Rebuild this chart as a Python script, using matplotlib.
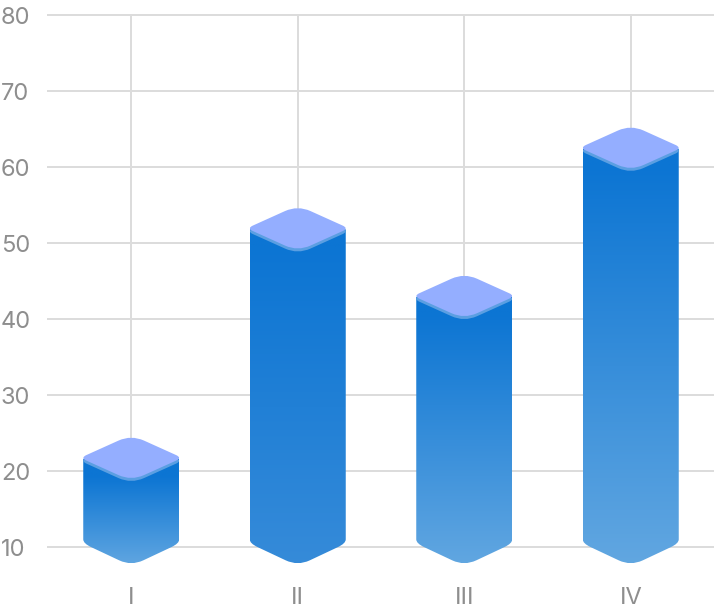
import numpy as np
import matplotlib
matplotlib.use("Agg")
import matplotlib.pyplot as plt
from matplotlib.path import Path
from matplotlib.patches import PathPatch
from matplotlib.colors import LinearSegmentedColormap

categories = ["I", "II", "III", "IV"]
values = [21.6, 51.8, 42.9, 62.4]
y_ticks = [10, 20, 30, 40, 50, 60, 70, 80]
base_value = 10

bottom_colors = ["#62a7e1", "#368bd9", "#62a7e1", "#62a7e1"]
top_color = "#0c75d3"
cap_color = "#94aeff"
rim_color = "#5b9fe2"
grid_color = "#dcdcdc"
label_color = "#8e8e8e"

W, H = 714, 610
L, R, T, B = 48, 714, 15, 547

fig = plt.figure(figsize=(W / 100, H / 100), dpi=100)
ax = fig.add_axes([L / W, 1 - B / H, (R - L) / W, (B - T) / H])
ax.set_xlim(-0.5, 3.5)
ax.set_ylim(10, 80)

px_x = 4 / (R - L)
px_y = 70 / (B - T)
font = ["Inter", "DejaVu Sans"]

ax.set_axisbelow(True)
ax.grid(True, color=grid_color, linewidth=1.44, zorder=0)
for s in ax.spines.values():
    s.set_visible(False)
for ln in ax.get_xgridlines() + ax.get_ygridlines():
    ln.set_clip_on(False)

ax.set_xticks(range(len(categories)))
ax.set_xticklabels(categories, family=font, fontsize=17, color=label_color)
ax.set_yticks(y_ticks)
ax.set_yticklabels([str(v) for v in y_ticks], family=font, fontsize=17, color=label_color, ha="left")
ax.tick_params(axis="x", length=0, pad=29)
ax.tick_params(axis="y", length=0, pad=34)

DW, DH = 51, 24     # unrounded diamond half-sizes, px
BW = 48             # body half-width, px


def diamond_path(x, y, dy=0):
    fx, fy = 0.12, 0.25
    ang = [(0, -DH + dy), (DW, dy - 1), (0, DH + dy - 2), (-DW, dy - 1)]
    verts, codes = [], []
    for i, p in enumerate(ang):
        prev = ang[i - 1]
        nxt = ang[(i + 1) % 4]
        f = fy if i in (0, 2) else fx
        a = (p[0] + (prev[0] - p[0]) * f, p[1] + (prev[1] - p[1]) * f)
        b = (p[0] + (nxt[0] - p[0]) * f, p[1] + (nxt[1] - p[1]) * f)
        verts += [a, p, b]
        codes += [Path.MOVETO if i == 0 else Path.LINETO, Path.CURVE3, Path.CURVE3]
    verts.append(verts[0])
    codes.append(Path.CLOSEPOLY)
    return Path([(x + vx * px_x, y - vy * px_y) for vx, vy in verts], codes)


def body_path(x, y_top, y_base):
    """Straight sides with a pointed, rounded base."""
    base_off = 5  # px above the base value
    slope = DH / DW

    def edge(dx):
        return DH - abs(dx) * slope - base_off

    def pt(dx, up=0):
        return (x + dx * px_x, y_base - (edge(dx) - up) * px_y)

    verts = [
        (x - BW * px_x, y_top),
        (x + BW * px_x, y_top),
        pt(BW, 4), pt(BW), pt(BW - 8),
        pt(12), pt(0), pt(-12),
        pt(-(BW - 8)), pt(-BW), pt(-BW, 4),
        (x - BW * px_x, y_top),
    ]
    codes = [Path.MOVETO, Path.LINETO, Path.LINETO, Path.CURVE3, Path.CURVE3,
             Path.LINETO, Path.CURVE3, Path.CURVE3, Path.LINETO, Path.CURVE3,
             Path.CURVE3, Path.CLOSEPOLY]
    return Path(verts, codes)


for i, (val, bc) in enumerate(zip(values, bottom_colors)):
    body = PathPatch(body_path(i, val, base_value), facecolor="none", edgecolor="none", zorder=3, clip_on=False)
    ax.add_patch(body)
    y_low = base_value - 20 * px_y
    solid = 18 * px_y / (val - y_low)
    cmap = LinearSegmentedColormap.from_list("g", [(0, top_color), (solid, top_color), (1, bc)])
    grad = np.linspace(0, 1, 256).reshape(-1, 1)
    im = ax.imshow(grad, extent=(i - BW * px_x, i + BW * px_x, y_low, val), origin="upper",
                   aspect="auto", cmap=cmap, zorder=3, interpolation="bilinear")
    im.set_clip_box(fig.bbox)
    im.set_clip_path(body)
    ax.add_patch(PathPatch(diamond_path(i, val, 3), facecolor=rim_color, edgecolor="none", zorder=4, clip_on=False))
    ax.add_patch(PathPatch(diamond_path(i, val), facecolor=cap_color, edgecolor="none", zorder=5, clip_on=False))

ax.set_xlim(-0.5, 3.5)
ax.set_ylim(10, 80)
fig.savefig("out.png", dpi=100)
